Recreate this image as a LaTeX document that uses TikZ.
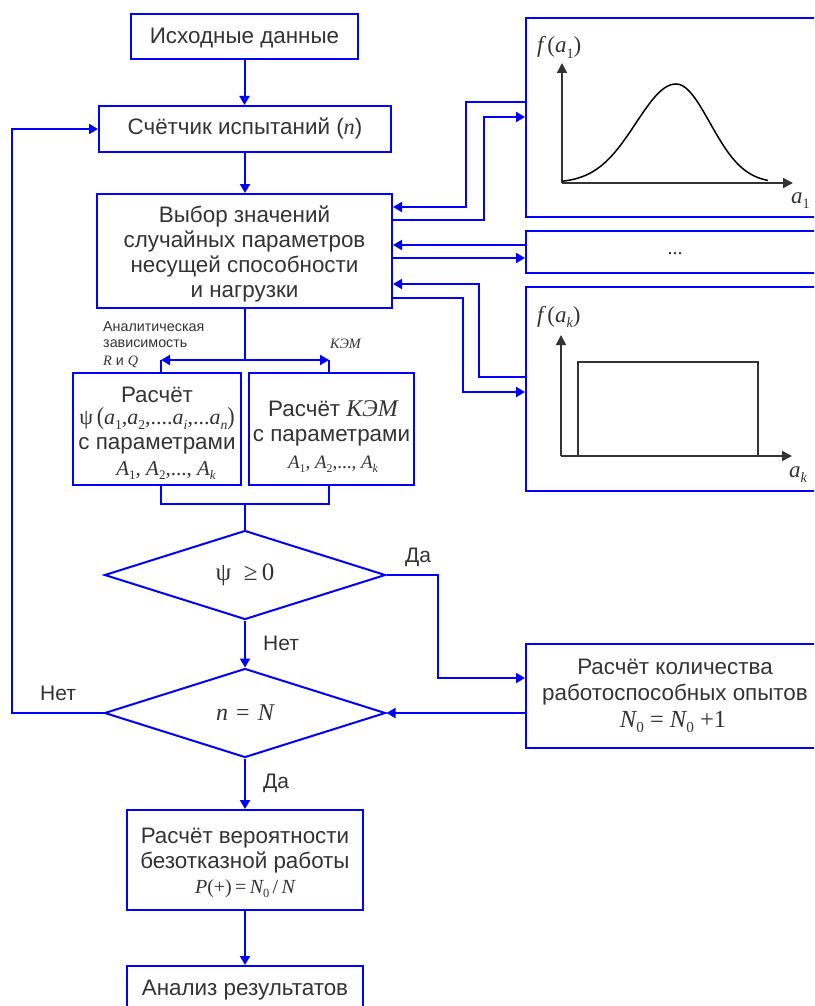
\documentclass[tikz,border=0pt]{standalone}
\usepackage{graphicx}
\usepackage{fontspec}
\setmainfont{Liberation Sans}
\newfontfamily\tms{Liberation Serif}
\usetikzlibrary{arrows.meta,shapes.geometric}
\definecolor{ink}{HTML}{333333}
\definecolor{flow}{RGB}{0,0,255}
\newcommand\fsz[2]{\fontsize{#1}{#2}\selectfont}
% italic variable and variable with subscript, set in a Times-like serif
\newcommand\vi[1]{{\tms\itshape #1}}
\newcommand\vsub[2]{\vi{#1}\raisebox{-0.22em}{\scalebox{0.62}{\tms #2}}}
\newcommand\bigpar[1]{\raisebox{-0.02em}{\scalebox{1}[1.12]{\tms #1}}}

\begin{document}
\begin{tikzpicture}[x=1pt,y=-1pt,
  box/.style={draw=flow,line width=2pt,inner sep=0pt,align=center,text=ink,font=\fsz{22.4}{25}},
  cond/.style={diamond,aspect=3,draw=flow,line width=2pt,inner sep=0pt,text=ink,
               minimum width=281pt,minimum height=89pt,font=\tms\fsz{24}{28}},
  panel/.style={draw=flow,line width=2pt,inner sep=0pt,minimum width=304pt},
  flowline/.style={draw=flow,line width=2pt},
  flowarrow/.style={flowline,-{Triangle[length=9pt,width=10pt]}},
  txt/.style={inner sep=0pt,text=ink,anchor=base,font=\fsz{22.4}{25}},
  formula/.style={inner sep=0pt,text=ink,anchor=base,font=\tms\fsz{21}{25}},
  lbl/.style={inner sep=0pt,text=ink,anchor=base west,font=\fsz{21}{25}},
  small/.style={inner sep=0pt,text=ink,anchor=base west,font=\fsz{14.3}{17}},
  axlbl/.style={inner sep=0pt,text=ink,anchor=base west,font=\tms\fsz{23}{26}},
  axis/.style={draw=ink,line width=1.5pt,-{Triangle[length=10pt,width=10pt]}},
  curve/.style={draw=black,line width=1.5pt},
]
\useasboundingbox (0,0) rectangle (814,1006);
\clip (0,0) rectangle (814,1006);

% ---------- main column ----------
\node[box,minimum width=227pt,minimum height=45pt] (src) at (244.5,36.5) {\rule{0pt}{18.5pt}Исходные данные};
\node[box,minimum width=292pt,minimum height=46pt] (cnt) at (245,129) {Счётчик испытаний (\vi{n})};
\node[box,minimum width=295pt,minimum height=114pt] (sel) at (244.5,251)
  {\rule{0pt}{23pt}Выбор значений\\случайных параметров\\несущей способности\\и нагрузки};

% two ways of computing
\node[box,minimum width=168pt,minimum height=112pt] (cpsi) at (157,429) {};
\node[txt] (cpsi1) at (157,402) {Расчёт};
\node[formula,font=\tms\fsz{22}{26}] (cpsi2) at (157,424.5)
  {ψ\,\bigpar{(}\vsub{a}{1},\vsub{a}{2},....\vsub{a}{\itshape i},...\vsub{a}{\itshape n}\bigpar{)}};
\node[txt] (cpsi3) at (157,449.5) {с параметрами};
\node[formula] (cpsi4) at (166,475) {\vsub{A}{1}, \vsub{A}{2},..., \vsub{A}{\itshape k}};

\node[box,minimum width=165pt,minimum height=112pt] (ckem) at (331.5,429) {};
\node[txt] (ckem1) at (333,416) {Расчёт {\tms\itshape\fsz{24}{25}КЭМ}};
\node[txt] (ckem2) at (331.5,441) {с параметрами};
\node[formula,font=\tms\fsz{19}{23}] (ckem3) at (333,468) {\vsub{A}{1}, \vsub{A}{2},..., \vsub{A}{\itshape k}};

\node[small] (an1) at (103,331) {Аналитическая};
\node[small] (an2) at (103,347) {зависимость};
\node[small] (an3) at (103,365) {{\tms\itshape R} и {\tms\itshape Q}};
\node[small,font=\tms\itshape\fsz{14.3}{17}] (kem) at (330,348) {КЭМ};

% decisions
\node[cond,font=\tms\fsz{25}{28}] (dpsi) at (245,575) {ψ\ \ ≥\,0};
\node[cond] (dn) at (245,713) {\vi{n}\,\,=\,\,\vi{N}};

\node[box,minimum width=298pt,minimum height=104pt] (acc) at (675,696) {};
\node[txt] (acc1) at (675,674) {Расчёт количества};
\node[txt] (acc2) at (675,700) {работоспособных опытов};
\node[formula,font=\tms\fsz{24.5}{26}] (acc3) at (673,727) {\vsub{N}{0}\ =\ \vsub{N}{0}\ +1};

\node[box,minimum width=236pt,minimum height=100pt] (prob) at (245,860) {};
\node[txt] (prob1) at (245,843) {Расчёт вероятности};
\node[txt] (prob2) at (245,868) {безотказной работы};
\node[formula,font=\tms\fsz{20}{24}] (prob3) at (245,893) {\vi{P}(+)\,=\,\vsub{N}{0}\,/\,\vi{N}};

\node[box,minimum width=236pt,minimum height=60pt] (res) at (245,996) {};
\node[txt] (restxt) at (245,995) {Анализ результатов};

% ---------- distribution panels ----------
\node[panel,minimum height=199pt] (g1) at (678,117.5) {};
\node[panel,minimum height=42pt] (gdots) at (678,252) {};
\node[panel,minimum height=204pt] (gk) at (678,389) {};
\node[inner sep=0pt,text=ink,font=\tms\fsz{20}{22}] (dotstxt) at (675,254) {...};

% first density: bell curve
\draw[axis] (562,183) -- (562,63);
\draw[axis] (562,183) -- (793,183);
\draw[curve] plot[domain=562:676,samples=60,smooth] (\x,{183-99*exp(-0.5*pow((\x-676)/40,2))})
   -- plot[domain=676:768,samples=50,smooth] (\x,{183-99*exp(-0.5*pow((\x-676)/34,2))});
\node[axlbl] (fa1) at (537,53) {\vi{f}\,(\vsub{a}{1})};
\node[axlbl] (xa1) at (791,203) {\vsub{a}{1}};

% k-th density: uniform
\draw[axis] (561,456) -- (561,335);
\draw[axis] (561,456) -- (792,456);
\draw[draw=ink,line width=1.5pt] (578,456) -- (578,362) -- (758,362) -- (758,456);
\node[axlbl] (fak) at (537,322) {\vi{f}\,(\vsub{a}{\itshape k})};
\node[axlbl] (xak) at (789,477) {\vsub{a}{\itshape k}};

% ---------- connectors ----------
\draw[flowarrow] (src.south) -- (src.south |- cnt.north);
\draw[flowarrow] (cnt.south) -- (cnt.south |- sel.north);

% split to the two computations
\coordinate (jl) at (161,360);
\coordinate (jr) at (329,360);
\coordinate (jm) at (245,360);
\draw[flowline] (jm |- sel.south) -- (jm);
\draw[flowarrow] (jm) -- (jl);
\draw[flowarrow] (jm) -- (jr);
\draw[flowline] (jl) -- (jl |- cpsi.north);
\draw[flowline] (jr) -- (jr |- ckem.north);

% merge
\coordinate (jb) at (245,504);
\draw[flowline] (jl |- cpsi.south) -- (jl |- jb) -- (jr |- jb) -- (jr |- ckem.south);
\draw[flowline] (jb) -- (dpsi.north);

\draw[flowarrow] (dpsi.south) -- (dn.north);
\node[lbl] (no1) at (263,650) {Нет};
\draw[flowarrow] (dn.south) -- (prob.north);
\node[lbl] (yes2) at (263,788) {Да};
\draw[flowarrow] (prob.south) -- (res.north);

% loop back to the counter
\coordinate (lx) at (12,0);
\draw[flowarrow] (dn.west) -- (dn.west -| lx) -- (lx |- cnt.west) -- (cnt.west);
\node[lbl] (no2) at (40,700) {Нет};

% success branch
\coordinate (yb) at (438,678);
\draw[flowarrow] (dpsi.east) -- (dpsi.east -| yb) -- (yb) -- (acc.west |- yb);
\node[lbl] (yes1) at (405,562) {Да};
\draw[flowarrow] (acc.west |- dn.east) -- (dn.east);

% exchange with the distribution panels
\coordinate (ra1) at (466,102); \coordinate (ra2) at (466,207);
\draw[flowarrow] (g1.west |- ra1) -- (ra1) -- (ra2) -- (sel.east |- ra2);
\coordinate (rb1) at (484,220); \coordinate (rb2) at (484,117);
\draw[flowarrow] (sel.east |- rb1) -- (rb1) -- (rb2) -- (g1.west |- rb2);
\coordinate (rc) at (460,245);
\draw[flowarrow] (gdots.west |- rc) -- (sel.east |- rc);
\coordinate (rd) at (460,258);
\draw[flowarrow] (sel.east |- rd) -- (gdots.west |- rd);
\coordinate (re1) at (479,377); \coordinate (re2) at (479,284);
\draw[flowarrow] (gk.west |- re1) -- (re1) -- (re2) -- (sel.east |- re2);
\coordinate (rf1) at (463,298); \coordinate (rf2) at (463,392);
\draw[flowarrow] (sel.east |- rf1) -- (rf1) -- (rf2) -- (gk.west |- rf2);
\end{tikzpicture}
\end{document}
